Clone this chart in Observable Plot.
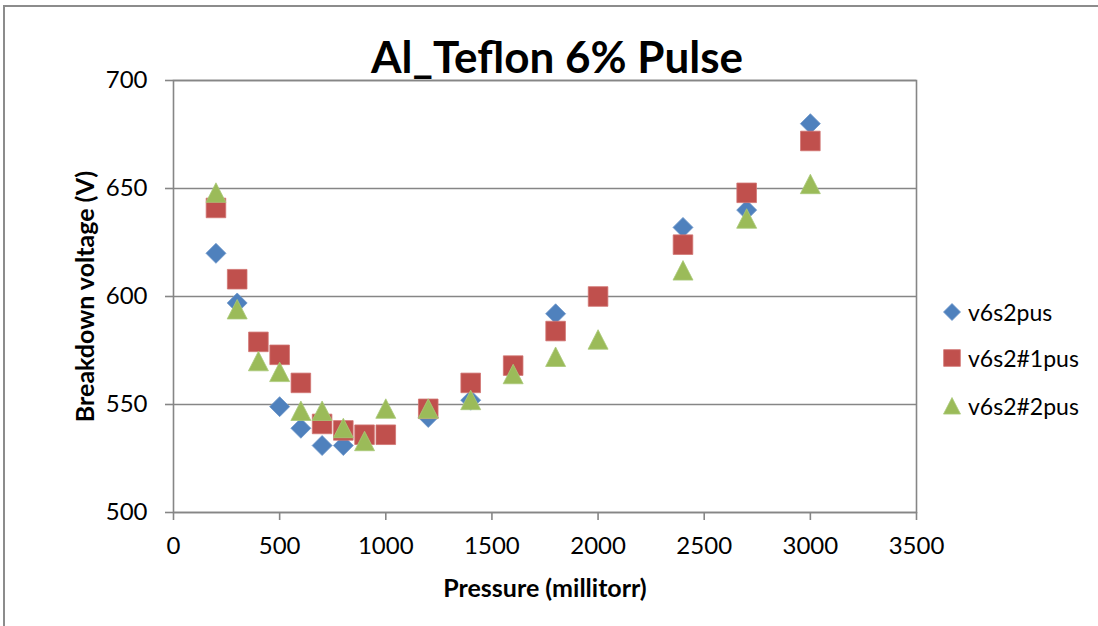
<!DOCTYPE html>
<html>
<head>
<meta charset="utf-8">
<script src="https://cdn.jsdelivr.net/npm/d3@7"></script>
<script src="https://cdn.jsdelivr.net/npm/@observablehq/plot@0.6"></script>
<style>
  html, body { margin: 0; padding: 0; background: #fff; overflow: hidden; }
  #wrap { position: relative; width: 1098px; height: 626px; overflow: hidden; font-family: Lato, "Open Sans", sans-serif; }
  #border { position: absolute; left: 3px; top: 5px; width: 3000px; height: 3000px;
            border-top: 2px solid #8c8c8c; border-left: 2px solid #8c8c8c; pointer-events: none; }
  #chart { position: absolute; left: 0; top: 0; }
  #legend { position: absolute; left: 942px; top: 296px; }
  .item { position: absolute; left: 0; display: flex; align-items: center; white-space: nowrap;
          font-size: 23px; color: #000; }
  .item svg { margin-right: 6px; }
</style>
</head>
<body>
<div id="wrap">
  <div id="chart"></div>
  <div id="border"></div>
  <div id="legend"></div>
</div>
<script>
// Breakdown voltage (V) against pressure (millitorr), three pulse runs
const seriesNames = ["v6s2pus", "v6s2#1pus", "v6s2#2pus"];
const seriesColors = ["#4F81BD", "#C0504D", "#9BBB59"];

const pressureA = [200, 300, 500, 600, 700, 800, 1200, 1400, 1800, 2400, 2700, 3000];
const voltageA  = [620, 597, 549, 539, 531, 531, 544, 552, 592, 632, 640, 680];

const pressureB = [200, 300, 400, 500, 600, 700, 800, 900, 1000, 1200, 1400, 1600, 1800, 2000, 2400, 2700, 3000];
const voltageB  = [641, 608, 579, 573, 560, 541, 538, 536, 536, 548, 560, 568, 584, 600, 624, 648, 672];

const pressureC = [200, 300, 400, 500, 600, 700, 800, 900, 1000, 1200, 1400, 1600, 1800, 2000, 2400, 2700, 3000];
const voltageC  = [648, 594, 570, 565, 547, 547, 539, 533, 548, 548, 552, 564, 572, 580, 612, 636, 652];

const xTicks = [0, 500, 1000, 1500, 2000, 2500, 3000, 3500];
const yTicks = [500, 550, 600, 650, 700];

const toRows = (xs, ys) => xs.map((x, i) => ({x, y: ys[i]}));

// Marker shapes centred on their bounding box; r is the half-extent
const half = size => Math.sqrt(size / Math.PI);
const diamond = {draw(ctx, size) { const r = half(size);
  ctx.moveTo(0, -r); ctx.lineTo(r, 0); ctx.lineTo(0, r); ctx.lineTo(-r, 0); ctx.closePath(); }};
const square = {draw(ctx, size) { const r = half(size) * 0.98;
  ctx.moveTo(-r, -r); ctx.lineTo(r, -r); ctx.lineTo(r, r); ctx.lineTo(-r, r); ctx.closePath(); }};
const triangle = {draw(ctx, size) { const r = half(size);
  ctx.moveTo(0, -r); ctx.lineTo(r, r * 0.95); ctx.lineTo(-r, r * 0.95); ctx.closePath(); }};
const shapes = [diamond, square, triangle];
const edge = ["#6c95c9", "#d27572", "#aac97a"];

const grey = "#868686";
const font = "Lato, 'Open Sans', sans-serif";

const chart = Plot.plot({
  width: 1098,
  height: 626,
  marginLeft: 173,
  marginRight: 182,
  marginTop: 80,
  marginBottom: 114,
  style: {fontFamily: font, fontSize: "24px", color: "#000", background: "transparent"},
  x: {domain: [0, 3500]},
  y: {domain: [500, 700]},
  marks: [
    Plot.gridY(yTicks, {stroke: grey, strokeOpacity: 1, strokeWidth: 1.6}),
    Plot.frame({stroke: grey, strokeWidth: 1.6}),
    Plot.axisX(xTicks, {tickSize: 8, tickPadding: 16, stroke: grey, strokeWidth: 1.6,
      tickFormat: d => String(d), label: null, fill: "#000"}),
    Plot.axisY(yTicks, {tickSize: 8, tickPadding: 18, stroke: grey, strokeWidth: 1.6,
      tickFormat: d => String(d), label: null, fill: "#000"}),
    Plot.dot(toRows(pressureA, voltageA), {x: "x", y: "y", r: 10, symbol: diamond,
      fill: seriesColors[0], stroke: edge[0], strokeWidth: 0.8}),
    Plot.dot(toRows(pressureB, voltageB), {x: "x", y: "y", r: 10, symbol: square,
      fill: seriesColors[1], stroke: edge[1], strokeWidth: 0.8}),
    Plot.dot(toRows(pressureC, voltageC), {x: "x", y: "y", r: 10, symbol: triangle,
      fill: seriesColors[2], stroke: edge[2], strokeWidth: 0.8}),
    Plot.text(["Al_Teflon 6% Pulse"], {frameAnchor: "top", dx: 12, dy: -22,
      lineAnchor: "middle", textAnchor: "middle",
      fontSize: 44, fontWeight: "bold", fill: "#000"}),
    Plot.text(["Pressure (millitorr)"], {frameAnchor: "bottom", dy: 76,
      lineAnchor: "middle", textAnchor: "middle",
      fontSize: 25, fontWeight: "bold", fill: "#000"}),
    Plot.text(["Breakdown voltage (V)"], {frameAnchor: "left", dx: -88, rotate: -90,
      lineAnchor: "middle", textAnchor: "middle",
      fontSize: 25, fontWeight: "bold", fill: "#000"})
  ]
});
document.getElementById("chart").appendChild(chart);

// Legend: one swatch and label per series
const legend = document.getElementById("legend");
const legendTops = [0, 46, 94];
seriesNames.forEach((name, i) => {
  const item = document.createElement("div");
  item.className = "item";
  item.style.top = legendTops[i] + "px";
  const svg = d3.create("svg").attr("width", 20).attr("height", 32);
  svg.append("path")
    .attr("transform", "translate(10,16)")
    .attr("d", d3.symbol(shapes[i], Math.PI * 8.5 * 8.5)())
    .attr("fill", seriesColors[i]).attr("stroke", edge[i]).attr("stroke-width", 0.8);
  item.appendChild(svg.node());
  const label = document.createElement("span");
  label.textContent = name;
  item.appendChild(label);
  legend.appendChild(item);
});
</script>
</body>
</html>
